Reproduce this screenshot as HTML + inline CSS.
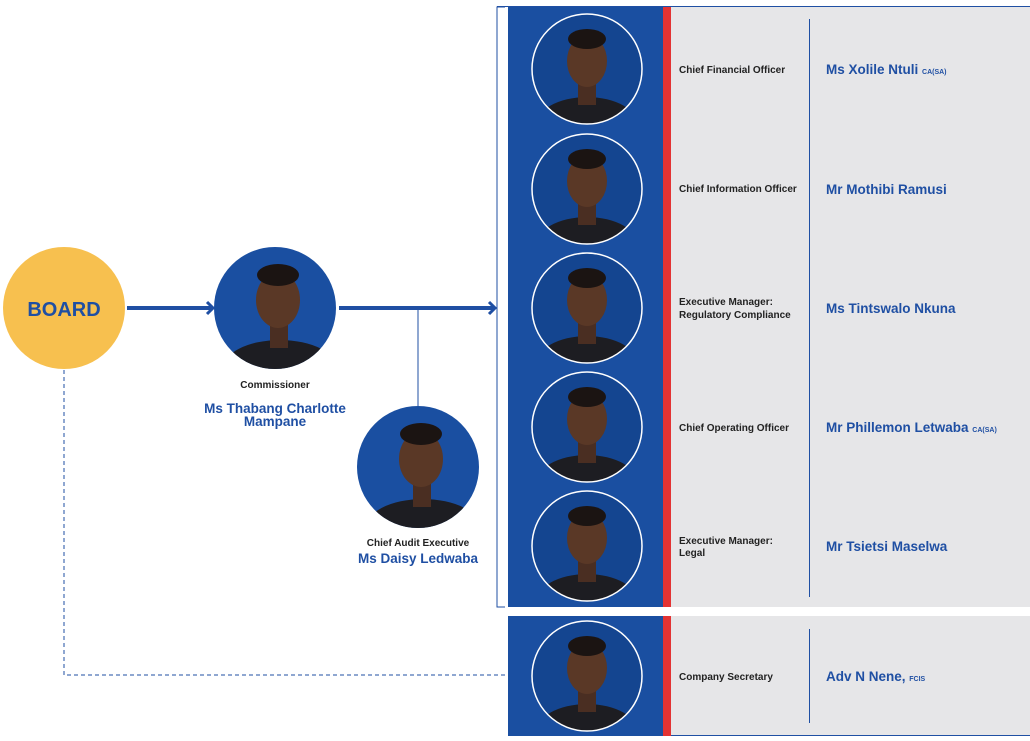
<!DOCTYPE html>
<html><head><meta charset="utf-8"><style>
html,body{margin:0;padding:0;background:#fff;}
svg{display:block;font-family:"Liberation Sans",Arial,sans-serif;}
.r{font-size:10px;font-weight:bold;fill:#222;}
.n{font-size:13.5px;font-weight:bold;fill:#1f4fa3;}
.s{font-size:7px;font-weight:bold;fill:#1f4fa3;}
</style></head><body>
<svg width="1030" height="741" viewBox="0 0 1030 741" xmlns="http://www.w3.org/2000/svg">
<defs>
<clipPath id="c55"><circle cx="0" cy="0" r="55"/></clipPath>
<clipPath id="c61"><circle cx="0" cy="0" r="61"/></clipPath>
<g id="p55">
<circle r="55" fill="#144590"/>
<g clip-path="url(#c55)">
<ellipse cx="0" cy="58" rx="52" ry="30" fill="#1d1d22"/>
<rect x="-9" y="14" width="18" height="22" fill="#4a2e22"/>
<ellipse cx="0" cy="-8" rx="20" ry="26" fill="#5a3826"/>
<ellipse cx="0" cy="-30" rx="19" ry="10" fill="#1b1412"/>
</g>
<circle r="55" fill="none" stroke="#fff" stroke-width="1.5"/>
</g>
<g id="p61">
<circle r="61" fill="#1a4fa1"/>
<g clip-path="url(#c61)">
<ellipse cx="5" cy="62" rx="58" ry="30" fill="#1d1d22"/>
<rect x="-5" y="16" width="18" height="24" fill="#4a2e22"/>
<ellipse cx="3" cy="-8" rx="22" ry="28" fill="#5a3826"/>
<ellipse cx="3" cy="-33" rx="21" ry="11" fill="#1b1412"/>
</g>
</g>
</defs>

<!-- bracket -->
<path d="M505 7 H497 V607 H505" fill="none" stroke="#1f4fa3" stroke-width="1"/>
<line x1="497" y1="6.5" x2="1030" y2="6.5" stroke="#1f4fa3" stroke-width="1"/>

<!-- main panel -->
<rect x="508" y="7" width="155" height="600" fill="#1a4fa1"/>
<rect x="663" y="7" width="8" height="600" fill="#e33333"/>
<rect x="671" y="7" width="359" height="600" fill="#e6e6e8"/>
<line x1="809.5" y1="19" x2="809.5" y2="597" stroke="#1f4fa3" stroke-width="1"/>

<!-- bottom panel -->
<rect x="508" y="616" width="155" height="120" fill="#1a4fa1"/>
<rect x="663" y="616" width="8" height="120" fill="#e33333"/>
<rect x="671" y="616" width="359" height="120" fill="#e6e6e8"/>
<line x1="671" y1="735.5" x2="1030" y2="735.5" stroke="#1f4fa3" stroke-width="1"/>
<line x1="809.5" y1="629" x2="809.5" y2="723" stroke="#1f4fa3" stroke-width="1"/>

<use href="#p55" x="587" y="69"/>
<use href="#p55" x="587" y="189"/>
<use href="#p55" x="587" y="308"/>
<use href="#p55" x="587" y="427"/>
<use href="#p55" x="587" y="546"/>
<use href="#p55" x="587" y="676"/>

<text class="r" x="679" y="73">Chief Financial Officer</text>
<text class="n" x="826" y="74">Ms Xolile Ntuli <tspan class="s">CA(SA)</tspan></text>
<text class="r" x="679" y="192">Chief Information Officer</text>
<text class="n" x="826" y="194">Mr Mothibi Ramusi</text>
<text class="r" x="679" y="305">Executive Manager:</text>
<text class="r" x="679" y="318">Regulatory Compliance</text>
<text class="n" x="826" y="313">Ms Tintswalo Nkuna</text>
<text class="r" x="679" y="431">Chief Operating Officer</text>
<text class="n" x="826" y="432">Mr Phillemon Letwaba <tspan class="s">CA(SA)</tspan></text>
<text class="r" x="679" y="544">Executive Manager:</text>
<text class="r" x="679" y="556">Legal</text>
<text class="n" x="826" y="551">Mr Tsietsi Maselwa</text>
<text class="r" x="679" y="680">Company Secretary</text>
<text class="n" x="826" y="681">Adv N Nene, <tspan class="s">FCIS</tspan></text>

<!-- board -->
<circle cx="64" cy="308" r="61" fill="#f7c04f"/>
<text x="64" y="316" text-anchor="middle" font-size="20" font-weight="bold" fill="#1f4fa3">BOARD</text>
<path d="M64 370 V675 H508" fill="none" stroke="#1f4fa3" stroke-width="1" stroke-dasharray="4,3"/>

<!-- arrows -->
<line x1="127" y1="308" x2="212" y2="308" stroke="#1f4fa3" stroke-width="4"/>
<path d="M207 302 L213 308 L207 314" fill="none" stroke="#1f4fa3" stroke-width="3"/>
<line x1="339" y1="308" x2="494" y2="308" stroke="#1f4fa3" stroke-width="4"/>
<path d="M489 302 L495 308 L489 314" fill="none" stroke="#1f4fa3" stroke-width="3"/>
<line x1="418" y1="308" x2="418" y2="406" stroke="#1f4fa3" stroke-width="1"/>

<use href="#p61" x="275" y="308"/>
<text class="r" x="275" y="388" text-anchor="middle">Commissioner</text>
<text class="n" x="275" y="413" text-anchor="middle">Ms Thabang Charlotte</text>
<text class="n" x="275" y="426" text-anchor="middle">Mampane</text>

<use href="#p61" x="418" y="467"/>
<text class="r" x="418" y="546" text-anchor="middle">Chief Audit Executive</text>
<text class="n" x="418" y="563" text-anchor="middle">Ms Daisy Ledwaba</text>
</svg>
</body></html>
